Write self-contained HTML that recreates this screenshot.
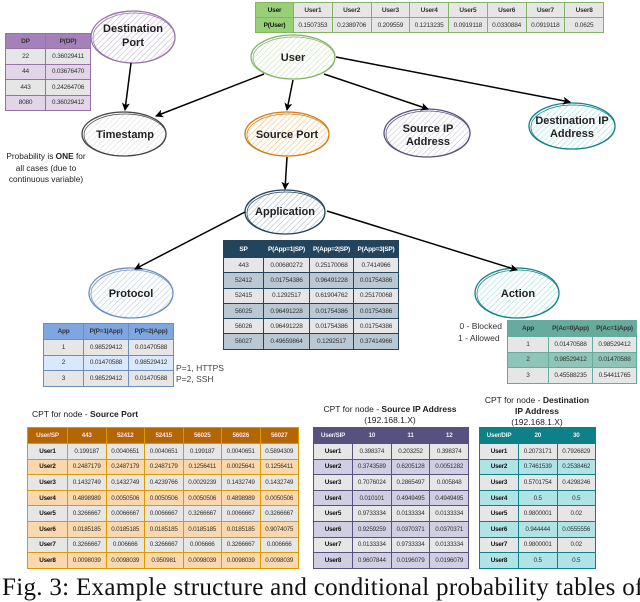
<!DOCTYPE html>
<html><head><meta charset="utf-8"><style>
body{margin:0;width:640px;height:596px;background:#fff;position:relative;overflow:hidden;font-family:"Liberation Sans",sans-serif;}
svg{position:absolute;left:0;top:0}
table{position:absolute;border-collapse:collapse;table-layout:fixed;font-size:6.5px;text-align:center;letter-spacing:-0.2px}
td{padding:0;border:1.3px solid;white-space:nowrap;overflow:hidden;color:#333}
.h td{font-weight:bold}
.b{font-weight:bold;color:#111}
.t{position:absolute;font-size:8.5px;color:#222;white-space:nowrap}
</style></head><body>
<svg width="640" height="596">
<defs>
<marker id="a" markerWidth="8" markerHeight="8" refX="7" refY="4" orient="auto" markerUnits="userSpaceOnUse"><path d="M0,0 L8,4 L0,8 L2,4z" fill="#000"/></marker>
<pattern id="pp" width="4" height="4" patternUnits="userSpaceOnUse" patternTransform="rotate(45)"><line x1="0" y1="0" x2="0" y2="4" stroke="#c9b3d6" stroke-width="1.2"/></pattern>
<pattern id="pg" width="4" height="4" patternUnits="userSpaceOnUse" patternTransform="rotate(45)"><line x1="0" y1="0" x2="0" y2="4" stroke="#c6e2b8" stroke-width="1.2"/></pattern>
<pattern id="pk" width="4" height="4" patternUnits="userSpaceOnUse" patternTransform="rotate(45)"><line x1="0" y1="0" x2="0" y2="4" stroke="#ddd" stroke-width="1.2"/></pattern>
<pattern id="po" width="4" height="4" patternUnits="userSpaceOnUse" patternTransform="rotate(45)"><line x1="0" y1="0" x2="0" y2="4" stroke="#f8c98c" stroke-width="1.4"/></pattern>
<pattern id="pv" width="4" height="4" patternUnits="userSpaceOnUse" patternTransform="rotate(45)"><line x1="0" y1="0" x2="0" y2="4" stroke="#c9c6de" stroke-width="1.2"/></pattern>
<pattern id="pt" width="4" height="4" patternUnits="userSpaceOnUse" patternTransform="rotate(45)"><line x1="0" y1="0" x2="0" y2="4" stroke="#a8dfe2" stroke-width="1.3"/></pattern>
<pattern id="pd" width="4" height="4" patternUnits="userSpaceOnUse" patternTransform="rotate(45)"><line x1="0" y1="0" x2="0" y2="4" stroke="#aabacb" stroke-width="1.2"/></pattern>
<pattern id="pb" width="4" height="4" patternUnits="userSpaceOnUse" patternTransform="rotate(45)"><line x1="0" y1="0" x2="0" y2="4" stroke="#b9cde8" stroke-width="1.2"/></pattern>
</defs>
<g stroke-width="1.3">
<ellipse cx="133" cy="37" rx="42" ry="26" fill="url(#pp)" stroke="#9673a6"/><ellipse cx="134" cy="38" rx="41" ry="25" fill="none" stroke="#9673a6" stroke-width=".7"/>
<ellipse cx="293" cy="57" rx="42" ry="22" fill="url(#pg)" stroke="#82b366"/><ellipse cx="294" cy="58" rx="41" ry="21" fill="none" stroke="#82b366" stroke-width=".7"/>
<ellipse cx="124" cy="134" rx="42" ry="22" fill="url(#pk)" stroke="#444"/><ellipse cx="125" cy="135" rx="41" ry="21" fill="none" stroke="#444" stroke-width=".7"/>
<ellipse cx="287" cy="134" rx="42" ry="22" fill="url(#po)" stroke="#d07c12"/><ellipse cx="288" cy="135" rx="41" ry="21" fill="none" stroke="#d07c12" stroke-width=".7"/>
<ellipse cx="427" cy="133" rx="43" ry="24" fill="url(#pv)" stroke="#56517e"/><ellipse cx="428" cy="134" rx="42" ry="23" fill="none" stroke="#56517e" stroke-width=".7"/>
<ellipse cx="572" cy="126" rx="43" ry="23" fill="url(#pt)" stroke="#0e8088"/><ellipse cx="573" cy="127" rx="42" ry="22" fill="none" stroke="#0e8088" stroke-width=".7"/>
<ellipse cx="285" cy="212" rx="40" ry="22" fill="url(#pd)" stroke="#23445d"/><ellipse cx="286" cy="213" rx="39" ry="21" fill="none" stroke="#23445d" stroke-width=".7"/>
<ellipse cx="131" cy="293" rx="42" ry="25" fill="url(#pb)" stroke="#6c8ebf"/><ellipse cx="132" cy="294" rx="41" ry="24" fill="none" stroke="#6c8ebf" stroke-width=".7"/>
<ellipse cx="517" cy="293" rx="42" ry="25" fill="url(#pt)" stroke="#0e8088"/><ellipse cx="518" cy="294" rx="41" ry="24" fill="none" stroke="#0e8088" stroke-width=".7"/>
</g>
<g stroke="#000" stroke-width="1.5" fill="none" marker-end="url(#a)">
<path d="M131,63 L125,110"/>
<path d="M264,74 L156,116"/>
<path d="M293,80 L287,110"/>
<path d="M336,57 L570,102"/>
<path d="M324,74 L428,109"/>
<path d="M287,157 L285,189"/>
<path d="M245,212 L135,269"/>
<path d="M327,211 L517,270"/>
</g>
<g font-family="Liberation Sans" font-weight="bold" font-size="11" text-anchor="middle" fill="#222">
<text x="133" y="32">Destination</text><text x="133" y="46">Port</text>
<text x="293" y="61">User</text>
<text x="125" y="138">Timestamp</text>
<text x="287" y="138">Source Port</text>
<text x="428" y="132">Source IP</text><text x="428" y="145">Address</text>
<text x="572" y="124">Destination IP</text><text x="572" y="137">Address</text>
<text x="285" y="215">Application</text>
<text x="131" y="297">Protocol</text>
<text x="518" y="297">Action</text>
</g>
</svg>

<table style="left:5px;top:33px;width:85px" >
<col style="width:40px"><col style="width:45px">
<tr class="h" style="height:15px;background:#a680b8"><td style="border-color:#9673a6">DP</td><td style="border-color:#9673a6">P(DP)</td></tr>
<tr style="height:15.5px;background:#e6e6e6"><td style="border-color:#9673a6">22</td><td style="border-color:#9673a6">0.36029411</td></tr>
<tr style="height:15.5px;background:#e1d5e7"><td style="border-color:#9673a6">44</td><td style="border-color:#9673a6">0.03676470</td></tr>
<tr style="height:15.5px;background:#e6e6e6"><td style="border-color:#9673a6">443</td><td style="border-color:#9673a6">0.24264706</td></tr>
<tr style="height:15.5px;background:#e1d5e7"><td style="border-color:#9673a6">8080</td><td style="border-color:#9673a6">0.36029412</td></tr>
</table>

<table style="left:255px;top:2px;width:348px;border:1.3px solid #82b366">
<col style="width:38px"><col span="8" style="width:38.75px">
<tr class="h" style="height:15px;background:#e6e6e6"><td style="border-color:#82b366;background:#97d077" class="b">User</td><td style="border-color:#82b366">User1</td><td style="border-color:#82b366">User2</td><td style="border-color:#82b366">User3</td><td style="border-color:#82b366">User4</td><td style="border-color:#82b366">User5</td><td style="border-color:#82b366">User6</td><td style="border-color:#82b366">User7</td><td style="border-color:#82b366">User8</td></tr>
<tr style="height:15px;background:#e6e6e6"><td style="border-color:#82b366;background:#97d077" class="b">P(User)</td><td style="border-color:#82b366">0.1507353</td><td style="border-color:#82b366">0.2389706</td><td style="border-color:#82b366">0.209559</td><td style="border-color:#82b366">0.1213235</td><td style="border-color:#82b366">0.0919118</td><td style="border-color:#82b366">0.0330884</td><td style="border-color:#82b366">0.0919118</td><td style="border-color:#82b366">0.0625</td></tr>
</table>

<div class="t" style="left:0;top:151px;width:92px;text-align:center;line-height:11.5px;font-size:8.3px">Probability is <b>ONE</b> for<br>all cases (due to<br>continuous variable)</div>

<table style="left:223px;top:240px;width:175px">
<col style="width:40px"><col style="width:46px"><col style="width:44px"><col style="width:45px">
<tr class="h" style="height:17px;background:#23445d;color:#fff"><td style="border-color:#23445d;color:#fff">SP</td><td style="border-color:#23445d;color:#fff">P(App=1|SP)</td><td style="border-color:#23445d;color:#fff">P(App=2|SP)</td><td style="border-color:#23445d;color:#fff">P(App=3|SP)</td></tr>
<tr style="height:15.3px;background:#e6e6e6"><td style="border-color:#23445d">443</td><td style="border-color:#23445d">0.00680272</td><td style="border-color:#23445d">0.25170068</td><td style="border-color:#23445d">0.7414966</td></tr>
<tr style="height:15.3px;background:#bac8d3"><td style="border-color:#23445d">52412</td><td style="border-color:#23445d">0.01754386</td><td style="border-color:#23445d">0.96491228</td><td style="border-color:#23445d">0.01754386</td></tr>
<tr style="height:15.3px;background:#e6e6e6"><td style="border-color:#23445d">52415</td><td style="border-color:#23445d">0.1292517</td><td style="border-color:#23445d">0.61904762</td><td style="border-color:#23445d">0.25170068</td></tr>
<tr style="height:15.3px;background:#bac8d3"><td style="border-color:#23445d">56025</td><td style="border-color:#23445d">0.96491228</td><td style="border-color:#23445d">0.01754386</td><td style="border-color:#23445d">0.01754386</td></tr>
<tr style="height:15.3px;background:#e6e6e6"><td style="border-color:#23445d">56026</td><td style="border-color:#23445d">0.96491228</td><td style="border-color:#23445d">0.01754386</td><td style="border-color:#23445d">0.01754386</td></tr>
<tr style="height:15.3px;background:#bac8d3"><td style="border-color:#23445d">56027</td><td style="border-color:#23445d">0.49659864</td><td style="border-color:#23445d">0.1292517</td><td style="border-color:#23445d">0.37414966</td></tr>
</table>

<table style="left:43px;top:323px;width:130px">
<col style="width:40px"><col style="width:45px"><col style="width:45px">
<tr class="h" style="height:16px;background:#7ea6e0"><td style="border-color:#6c8ebf">App</td><td style="border-color:#6c8ebf">P(P=1|App)</td><td style="border-color:#6c8ebf">P(P=2|App)</td></tr>
<tr style="height:15.5px;background:#e6e6e6"><td style="border-color:#6c8ebf">1</td><td style="border-color:#6c8ebf">0.98529412</td><td style="border-color:#6c8ebf">0.01470588</td></tr>
<tr style="height:15.5px;background:#dae8fc"><td style="border-color:#6c8ebf">2</td><td style="border-color:#6c8ebf">0.01470588</td><td style="border-color:#6c8ebf">0.98529412</td></tr>
<tr style="height:15.5px;background:#e6e6e6"><td style="border-color:#6c8ebf">3</td><td style="border-color:#6c8ebf">0.98529412</td><td style="border-color:#6c8ebf">0.01470588</td></tr>
</table>
<div class="t" style="left:176px;top:363px;line-height:11px;color:#444">P=1, HTTPS<br>P=2, SSH</div>

<div class="t" style="left:440px;top:320px;width:62px;text-align:right;line-height:12px;color:#333">0 - Blocked<br>1 - Allowed&nbsp;</div>
<table style="left:507px;top:320px;width:129px">
<col style="width:41px"><col style="width:44px"><col style="width:44px">
<tr class="h" style="height:16px;background:#67ab9f"><td style="border-color:#67ab9f">App</td><td style="border-color:#67ab9f">P(Ac=0|App)</td><td style="border-color:#67ab9f">P(Ac=1|App)</td></tr>
<tr style="height:15.5px;background:#e6e6e6"><td style="border-color:#67ab9f">1</td><td style="border-color:#67ab9f">0.01470588</td><td style="border-color:#67ab9f">0.98529412</td></tr>
<tr style="height:15.5px;background:#8fc5b9"><td style="border-color:#67ab9f">2</td><td style="border-color:#67ab9f">0.98529412</td><td style="border-color:#67ab9f">0.01470588</td></tr>
<tr style="height:15.5px;background:#e6e6e6"><td style="border-color:#67ab9f">3</td><td style="border-color:#67ab9f">0.45588235</td><td style="border-color:#67ab9f">0.54411765</td></tr>
</table>

<div class="t" style="left:32px;top:409px">CPT for node - <b>Source Port</b></div>
<table style="left:27px;top:427px;width:271px;font-size:6.3px">
<col style="width:40px"><col span="6" style="width:38.5px">
<tr class="h" style="height:16px;background:#b46504"><td style="border-color:#d79b00;color:#fde">User/SP</td><td style="border-color:#d79b00;color:#fde">443</td><td style="border-color:#d79b00;color:#fde">52412</td><td style="border-color:#d79b00;color:#fde">52415</td><td style="border-color:#d79b00;color:#fde">56025</td><td style="border-color:#d79b00;color:#fde">56026</td><td style="border-color:#d79b00;color:#fde">56027</td></tr>
<tr style="height:15.6px;background:#e6e6e6"><td class="b" style="border-color:#d79b00">User1</td><td style="border-color:#d79b00">0.199187</td><td style="border-color:#d79b00">0.0040651</td><td style="border-color:#d79b00">0.0040651</td><td style="border-color:#d79b00">0.199187</td><td style="border-color:#d79b00">0.0040651</td><td style="border-color:#d79b00">0.5894309</td></tr>
<tr style="height:15.6px;background:#fad7ac"><td class="b" style="border-color:#d79b00">User2</td><td style="border-color:#d79b00">0.2487179</td><td style="border-color:#d79b00">0.2487179</td><td style="border-color:#d79b00">0.2487179</td><td style="border-color:#d79b00">0.1256411</td><td style="border-color:#d79b00">0.0025641</td><td style="border-color:#d79b00">0.1256411</td></tr>
<tr style="height:15.6px;background:#e6e6e6"><td class="b" style="border-color:#d79b00">User3</td><td style="border-color:#d79b00">0.1432749</td><td style="border-color:#d79b00">0.1432749</td><td style="border-color:#d79b00">0.4239766</td><td style="border-color:#d79b00">0.0029239</td><td style="border-color:#d79b00">0.1432749</td><td style="border-color:#d79b00">0.1432749</td></tr>
<tr style="height:15.6px;background:#fad7ac"><td class="b" style="border-color:#d79b00">User4</td><td style="border-color:#d79b00">0.4898989</td><td style="border-color:#d79b00">0.0050506</td><td style="border-color:#d79b00">0.0050506</td><td style="border-color:#d79b00">0.0050506</td><td style="border-color:#d79b00">0.4898989</td><td style="border-color:#d79b00">0.0050506</td></tr>
<tr style="height:15.6px;background:#e6e6e6"><td class="b" style="border-color:#d79b00">User5</td><td style="border-color:#d79b00">0.3266667</td><td style="border-color:#d79b00">0.0066667</td><td style="border-color:#d79b00">0.0066667</td><td style="border-color:#d79b00">0.3266667</td><td style="border-color:#d79b00">0.0066667</td><td style="border-color:#d79b00">0.3266667</td></tr>
<tr style="height:15.6px;background:#fad7ac"><td class="b" style="border-color:#d79b00">User6</td><td style="border-color:#d79b00">0.0185185</td><td style="border-color:#d79b00">0.0185185</td><td style="border-color:#d79b00">0.0185185</td><td style="border-color:#d79b00">0.0185185</td><td style="border-color:#d79b00">0.0185185</td><td style="border-color:#d79b00">0.9074075</td></tr>
<tr style="height:15.6px;background:#e6e6e6"><td class="b" style="border-color:#d79b00">User7</td><td style="border-color:#d79b00">0.3266667</td><td style="border-color:#d79b00">0.006666</td><td style="border-color:#d79b00">0.3266667</td><td style="border-color:#d79b00">0.006666</td><td style="border-color:#d79b00">0.3266667</td><td style="border-color:#d79b00">0.006666</td></tr>
<tr style="height:15.6px;background:#fad7ac"><td class="b" style="border-color:#d79b00">User8</td><td style="border-color:#d79b00">0.0098039</td><td style="border-color:#d79b00">0.0098039</td><td style="border-color:#d79b00">0.950981</td><td style="border-color:#d79b00">0.0098039</td><td style="border-color:#d79b00">0.0098039</td><td style="border-color:#d79b00">0.0098039</td></tr>
</table>

<div class="t" style="left:300px;top:404px;width:180px;text-align:center;line-height:11px">CPT for node - <b>Source IP Address</b><br>(192.168.1.X)</div>
<table style="left:313px;top:427px;width:155px;font-size:6.3px">
<col style="width:39px"><col span="3" style="width:38.7px">
<tr class="h" style="height:16px;background:#56517e"><td style="border-color:#56517e;color:#eee">User/SIP</td><td style="border-color:#56517e;color:#eee">10</td><td style="border-color:#56517e;color:#eee">11</td><td style="border-color:#56517e;color:#eee">12</td></tr>
<tr style="height:15.6px;background:#e6e6e6"><td class="b" style="border-color:#56517e">User1</td><td style="border-color:#56517e">0.398374</td><td style="border-color:#56517e">0.203252</td><td style="border-color:#56517e">0.398374</td></tr>
<tr style="height:15.6px;background:#d0cee2"><td class="b" style="border-color:#56517e">User2</td><td style="border-color:#56517e">0.3743589</td><td style="border-color:#56517e">0.6205128</td><td style="border-color:#56517e">0.0051282</td></tr>
<tr style="height:15.6px;background:#e6e6e6"><td class="b" style="border-color:#56517e">User3</td><td style="border-color:#56517e">0.7076024</td><td style="border-color:#56517e">0.2865497</td><td style="border-color:#56517e">0.005848</td></tr>
<tr style="height:15.6px;background:#d0cee2"><td class="b" style="border-color:#56517e">User4</td><td style="border-color:#56517e">0.010101</td><td style="border-color:#56517e">0.4949495</td><td style="border-color:#56517e">0.4949495</td></tr>
<tr style="height:15.6px;background:#e6e6e6"><td class="b" style="border-color:#56517e">User5</td><td style="border-color:#56517e">0.9733334</td><td style="border-color:#56517e">0.0133334</td><td style="border-color:#56517e">0.0133334</td></tr>
<tr style="height:15.6px;background:#d0cee2"><td class="b" style="border-color:#56517e">User6</td><td style="border-color:#56517e">0.9259259</td><td style="border-color:#56517e">0.0370371</td><td style="border-color:#56517e">0.0370371</td></tr>
<tr style="height:15.6px;background:#e6e6e6"><td class="b" style="border-color:#56517e">User7</td><td style="border-color:#56517e">0.0133334</td><td style="border-color:#56517e">0.9733334</td><td style="border-color:#56517e">0.0133334</td></tr>
<tr style="height:15.6px;background:#d0cee2"><td class="b" style="border-color:#56517e">User8</td><td style="border-color:#56517e">0.9607844</td><td style="border-color:#56517e">0.0196079</td><td style="border-color:#56517e">0.0196079</td></tr>
</table>

<div class="t" style="left:470px;top:395px;width:134px;text-align:center;line-height:11px">CPT for node - <b>Destination<br>IP Address</b><br>(192.168.1.X)</div>
<table style="left:479px;top:427px;width:116px;font-size:6.3px">
<col style="width:39px"><col span="2" style="width:38.5px">
<tr class="h" style="height:16px;background:#0e8088"><td style="border-color:#0e8088;color:#eee">User/DIP</td><td style="border-color:#0e8088;color:#eee">20</td><td style="border-color:#0e8088;color:#eee">30</td></tr>
<tr style="height:15.6px;background:#e6e6e6"><td class="b" style="border-color:#0e8088">User1</td><td style="border-color:#0e8088">0.2073171</td><td style="border-color:#0e8088">0.7926829</td></tr>
<tr style="height:15.6px;background:#b0e3e6"><td class="b" style="border-color:#0e8088">User2</td><td style="border-color:#0e8088">0.7461539</td><td style="border-color:#0e8088">0.2538462</td></tr>
<tr style="height:15.6px;background:#e6e6e6"><td class="b" style="border-color:#0e8088">User3</td><td style="border-color:#0e8088">0.5701754</td><td style="border-color:#0e8088">0.4298246</td></tr>
<tr style="height:15.6px;background:#b0e3e6"><td class="b" style="border-color:#0e8088">User4</td><td style="border-color:#0e8088">0.5</td><td style="border-color:#0e8088">0.5</td></tr>
<tr style="height:15.6px;background:#e6e6e6"><td class="b" style="border-color:#0e8088">User5</td><td style="border-color:#0e8088">0.9800001</td><td style="border-color:#0e8088">0.02</td></tr>
<tr style="height:15.6px;background:#b0e3e6"><td class="b" style="border-color:#0e8088">User6</td><td style="border-color:#0e8088">0.944444</td><td style="border-color:#0e8088">0.0555556</td></tr>
<tr style="height:15.6px;background:#e6e6e6"><td class="b" style="border-color:#0e8088">User7</td><td style="border-color:#0e8088">0.9800001</td><td style="border-color:#0e8088">0.02</td></tr>
<tr style="height:15.6px;background:#b0e3e6"><td class="b" style="border-color:#0e8088">User8</td><td style="border-color:#0e8088">0.5</td><td style="border-color:#0e8088">0.5</td></tr>
</table>

<div style="position:absolute;left:2px;top:574px;font-family:'Liberation Serif',serif;font-size:25px;white-space:nowrap;color:#111;letter-spacing:0.3px">Fig. 3: Example structure and conditional probability tables of</div>
</body></html>
